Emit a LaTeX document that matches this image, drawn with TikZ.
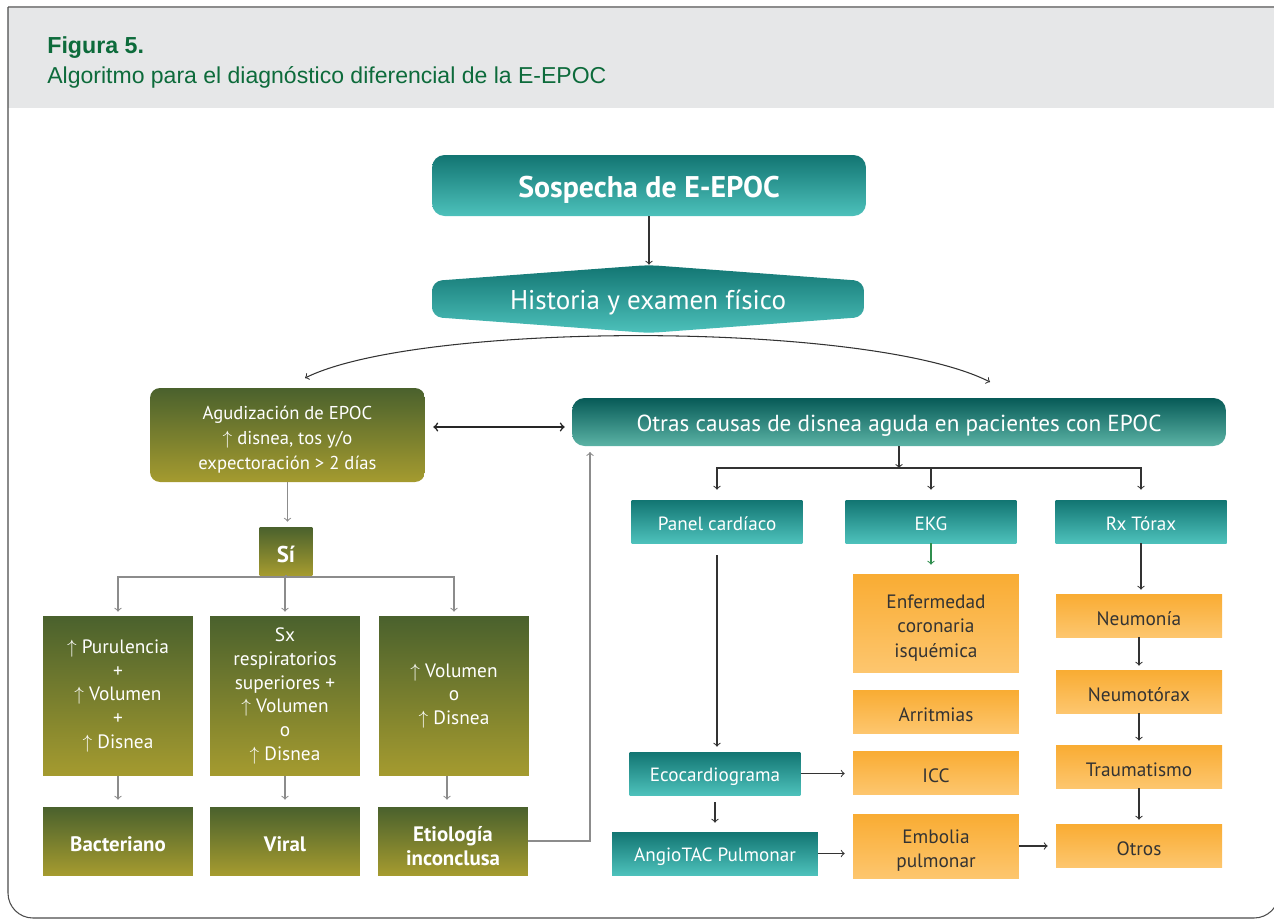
\documentclass[tikz,border=0pt]{standalone}
\usepackage{fontspec}
\setmainfont{PT Sans}
\newfontfamily\headfont{Liberation Sans}
\definecolor{tealtop}{HTML}{127572}
\definecolor{tealbot}{HTML}{4DC1BB}
\definecolor{otrastop}{HTML}{075A57}
\definecolor{otrasbot}{HTML}{5BB3A5}
\definecolor{olivetop}{HTML}{4A612D}
\definecolor{olivebot}{HTML}{A59B2F}
\definecolor{orgtop}{HTML}{F9AC33}
\definecolor{orgbot}{HTML}{FDC66E}
\definecolor{headgray}{HTML}{E6E7E8}
\definecolor{headgreen}{HTML}{0D6B3B}
\definecolor{linegray}{HTML}{8C8C8C}
\definecolor{ekggreen}{HTML}{2F8E4E}
\newcommand{\up}{$\uparrow$\space}
\newcommand{\tstrut}{\rule{0pt}{1em}}
\newcommand{\mstrut}{\rule{0pt}{1.2em}}

\begin{document}
\begin{tikzpicture}[x=0.02cm,y=-0.02cm,
  teal/.style={top color=tealtop,bottom color=tealbot,text=white,align=center,inner sep=0pt,execute at begin node=\tstrut},
  olive/.style={top color=olivetop,bottom color=olivebot,text=white,align=center,inner sep=0pt,execute at begin node=\tstrut},
  orange/.style={top color=orgtop,bottom color=orgbot,text=black!80,align=center,inner sep=0pt,execute at begin node=\tstrut},
  garrow/.style={draw=linegray,->,line width=0.6pt},
  darrow/.style={draw=black!80,->,line width=0.6pt}]
\useasboundingbox (0,0) rectangle (1274,920);
% frame and title
\fill[headgray] (8,8) rectangle (1274,108);
\draw[black!45,line width=1.2pt] (8,7) -- (1290,7);
\draw[black!70,line width=0.6pt] (8,7) {[rounded corners=0.5cm] -- (8,918) -- (1279,918) -- (1279,0)};
\node[anchor=base west,inner sep=0pt,text=headgreen,font=\headfont\fontsize{13.2}{15}\selectfont\bfseries] (fig) at (47,53) {Figura 5.};
\node[anchor=base west,inner sep=0pt,text=headgreen,font=\headfont\fontsize{13.1}{15}\selectfont] (sub) at (47,83) {Algoritmo para el diagn\'ostico diferencial de la E-EPOC};

% top
\node[teal,rounded corners=0.25cm,minimum width=8.68cm,minimum height=1.22cm,font=\fontsize{17}{20}\selectfont\bfseries] (sos) at (649,185.5) {Sospecha de E-EPOC};
\shade[top color=tealtop,bottom color=tealbot,rounded corners=0.2cm] (432,299) -- (432,281) -- (649,265) -- (864,281) -- (864,317) -- (649,333) -- (432,317) -- cycle;
\node[text=white,minimum width=8.64cm,minimum height=1.36cm,inner sep=0pt,execute at begin node=\tstrut,font=\fontsize{15.4}{18}\selectfont] (hist) at (648,299) {Historia y examen f\'isico};
\path[darrow] (sos.south) -- (sos.south |- hist.north);
\coordinate (arcl) at (305,378);
\coordinate (arcr) at (990,382);
\path[darrow,<->] (arcl) .. controls (420,321) and (870,321) .. (arcr);

% left branch
\node[olive,rounded corners=0.2cm,minimum width=5.5cm,minimum height=1.88cm,font=\fontsize{10.6}{14.3}\selectfont] (agud) at (287.5,435) {\mstrut Agudizaci\'on de EPOC\\\up disnea, tos y/o\\expectoraci\'on > 2 d\'ias};
\node[teal,top color=otrastop,bottom color=otrasbot,rounded corners=0.25cm,minimum width=13.08cm,minimum height=0.96cm,font=\fontsize{13.2}{15}\selectfont] (otras) at (899,422) {Otras causas de disnea aguda en pacientes con EPOC};
\path[draw=black!85,<->,line width=0.9pt,shorten <=0.16cm,shorten >=0.14cm] (agud.east |- 0,427) -- (otras.west |- 0,427);
\node[olive,minimum width=1.06cm,minimum height=0.96cm,font=\fontsize{13}{15}\selectfont\bfseries] (si) at (286,551) {S\'i};
\path[garrow,shorten >=0.1cm] (agud.south) -- (agud.south |- si.north);
\coordinate (lsplit) at (286,577);
\path[draw=linegray,line width=0.6pt] (si.south) -- (lsplit);

\begin{scope}[every node/.style={olive,execute at begin node={},minimum width=3cm,minimum height=3.2cm,font=\fontsize{11}{13.5}\selectfont}]
\node (g1) at (118,696) {\up Purulencia\\+\\\up Volumen\\+\\\up Disnea};
\node (g2) at (285,696) {Sx\\respiratorios\\superiores +\\\up Volumen\\o\\\up Disnea};
\node (g3) at (454,696) {\up Volumen\\o\\\up Disnea};
\end{scope}
\begin{scope}[every node/.style={olive,minimum width=3cm,minimum height=1.36cm,font=\fontsize{11.9}{13.8}\selectfont\bfseries}]
\node (b1) at (118,841) {Bacteriano};
\node (b2) at (285,841) {Viral};
\node (b3) at (453,841) {\mstrut Etiolog\'ia\\inconclusa};
\end{scope}
\foreach \b in {g1,g2,g3}
  \path[garrow,shorten >=0.08cm] (lsplit) -| (\b.north);
\path[garrow,shorten >=0.14cm] (g1.south) -- (g1.south |- b1.north);
\path[garrow,shorten >=0.14cm] (g2.south) -- (g2.south |- b2.north);
\path[garrow,shorten >=0.14cm] ([xshift=-0.14cm]g3.south) -- ([xshift=-0.14cm]g3.south |- b3.north);
\coordinate (back) at (590,452);
\path[garrow] (b3.east) -| (back);

% right branch
\begin{scope}[every node/.style={teal,minimum width=3.42cm,minimum height=0.86cm,font=\fontsize{10.9}{13}\selectfont}]
\node (panel) at (717,521.5) {Panel card\'iaco};
\node (ekg) at (931,521.5) {EKG};
\node (rx) at (1141,521.5) {Rx T\'orax};
\node (eco) at (715,773.5) {Ecocardiograma};
\node[minimum width=4.12cm] (angio) at (715,853.5) {AngioTAC Pulmonar};
\end{scope}
\begin{scope}[every node/.style={orange,minimum width=3.32cm,minimum height=0.86cm,font=\fontsize{11}{14}\selectfont}]
\node[minimum height=1.96cm] (enf) at (936,623) {\mstrut Enfermedad\\coronaria\\isqu\'emica};
\node (arr) at (936,711.5) {Arritmias};
\node (icc) at (936,772.5) {ICC};
\node[minimum height=1.28cm] (emb) at (936,846) {\mstrut Embolia\\pulmonar};
\node (neu) at (1139,615.5) {Neumon\'ia};
\node (ntx) at (1139,691.5) {Neumot\'orax};
\node (trau) at (1139,766.5) {Traumatismo};
\node (otros) at (1139,845.5) {Otros};
\end{scope}

\coordinate (rsplit) at (899,468);
\path[darrow] (otras.south) -- (rsplit);
\foreach \b in {panel,ekg,rx}
  \path[darrow,shorten >=0.2cm] (rsplit) -| (\b.north);
\path[darrow,shorten <=0.24cm,shorten >=0.1cm] (panel.south) -- (panel.south |- eco.north);
\path[draw=ekggreen,->,line width=0.6pt,shorten >=0.18cm] (ekg.south) -- (ekg.south |- enf.north);
\path[darrow,shorten >=0.08cm] (rx.south) -- (rx.south |- neu.north);
\path[darrow,shorten >=0.08cm] (neu) -- (ntx);
\path[darrow,shorten >=0.08cm] (ntx) -- (trau);
\path[darrow,shorten >=0.08cm] (trau) -- (otros);
\path[darrow,shorten >=0.16cm] (eco.east) -- (eco.east -| icc.west);
\path[darrow,shorten <=0.14cm,shorten >=0.18cm] (eco) -- (angio);
\path[darrow,shorten >=0.16cm] (angio.east) -- (angio.east -| emb.west);
\path[darrow,shorten >=0.16cm] (emb.east) -- (emb.east -| otros.west);
\end{tikzpicture}
\end{document}
